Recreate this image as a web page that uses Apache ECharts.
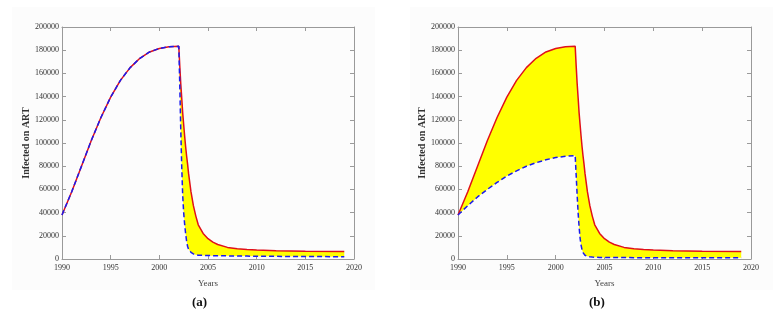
<!DOCTYPE html>
<html>
<head>
<meta charset="utf-8">
<script src="https://cdn.jsdelivr.net/npm/echarts@6/dist/echarts.min.js"></script>
<style>
html,body{margin:0;padding:0;background:#fff;}
#wrap{position:relative;width:781px;height:318px;}
.bg{position:absolute;top:7px;width:363px;height:283px;background:#fcfcfc;}
#chart{position:absolute;left:0;top:0;width:781px;height:318px;}
</style>
</head>
<body>
<div id="wrap">
<div class="bg" style="left:12px"></div>
<div class="bg" style="left:410px"></div>
<div id="chart"></div>
</div>
<script>
// Time points (years)
var years = [1990,1991,1992,1993,1994,1995,1996,1997,1998,1999,2000,2001,2002,
  2002.1,2002.2,2002.3,2002.4,2002.5,2002.6,2002.7,2002.8,2002.9,
  2003,2003.25,2003.5,2003.75,2004,2004.5,2005,2005.5,2006,2007,2008,2009,2010,2012,2015,2019];

// Upper curve (red, solid) - same in both panels
var redValues = [38000,58000,80000,102000,122000,139500,154000,165000,173000,178500,181500,183000,183300,
  166500,151300,139000,126000,116000,106000,97000,89000,82000,
  74000,58000,46000,37000,29500,22000,17500,14500,12500,10000,8800,8100,7700,7200,6700,6400];

// Lower curve (blue, dashed) - panel (a)
var blueValuesA = [38000,58000,80000,102000,122000,139500,154000,165000,173000,178500,181500,183000,183300,
  150000,112000,80000,55000,40000,30000,22000,15500,11000,
  8500,5800,4400,3700,3300,3100,3000,2900,2800,2700,2600,2500,2400,2300,2100,2000];

// Lower curve (blue, dashed) - panel (b)
var blueValuesB = [38000,46000,53500,60000,66000,71500,76000,80000,83000,85500,87500,88500,89200,
  72000,55000,39600,27500,18000,12000,8000,5500,4000,
  3200,2300,1900,1650,1500,1400,1300,1280,1250,1200,1180,1160,1150,1100,1050,1000];

var panelTitles = ['(a)', '(b)'];
var xLabel = 'Years';
var yLabel = 'Infected on ART';

function pairs(xs, ys){ return xs.map(function(x,i){ return [x, ys[i]]; }); }

var grids = [
  {left: 62, top: 27, width: 292, height: 232},
  {left: 458, top: 27, width: 293, height: 232}
];

var axisCol = '#9a9a9a';
var plain = function(v){ return String(v); };
var labelFont = {fontFamily: 'Liberation Serif', fontSize: 8, color: '#333', formatter: plain};

var xAxes = [], yAxes = [], series = [];
[0,1].forEach(function(g){
  xAxes.push({type:'value', gridIndex:g, min:1990, max:2020, interval:5, position:'bottom',
    axisLine:{show:true, onZero:false, lineStyle:{color:axisCol, width:1}},
    axisTick:{show:true, inside:true, length:4, lineStyle:{color:axisCol}},
    axisLabel:Object.assign({margin:5}, labelFont),
    splitLine:{show:false},
    name:xLabel, nameLocation:'middle', nameGap:20,
    nameTextStyle:{fontFamily:'Liberation Serif', fontSize:9, color:'#444'}});
  xAxes.push({type:'value', gridIndex:g, min:1990, max:2020, interval:5, position:'top',
    axisLine:{show:true, onZero:false, lineStyle:{color:axisCol, width:1}},
    axisTick:{show:true, inside:true, length:4, lineStyle:{color:axisCol}},
    axisLabel:{show:false}, splitLine:{show:false}});
  yAxes.push({type:'value', gridIndex:g, min:0, max:200000, interval:20000, position:'left',
    axisLine:{show:true, onZero:false, lineStyle:{color:axisCol, width:1}},
    axisTick:{show:true, inside:true, length:4, lineStyle:{color:axisCol}},
    axisLabel:Object.assign({margin:3}, labelFont),
    splitLine:{show:false},
    name:yLabel, nameLocation:'middle', nameGap:28,
    nameTextStyle:{fontFamily:'Liberation Serif', fontSize:10, fontWeight:'bold', color:'#333'}});
  yAxes.push({type:'value', gridIndex:g, min:0, max:200000, interval:20000, position:'right',
    axisLine:{show:true, onZero:false, lineStyle:{color:axisCol, width:1}},
    axisTick:{show:true, inside:true, length:4, lineStyle:{color:axisCol}},
    axisLabel:{show:false}, splitLine:{show:false}});
});

var lowers = [blueValuesA, blueValuesB];
[0,1].forEach(function(g){
  var xi = g*2, yi = g*2, lower = lowers[g];
  // band between upper and lower curves, positioned via the axes' scales
  series.push({type:'custom', xAxisIndex:xi, yAxisIndex:yi, data:[[years[0], redValues[0]]],
    silent:true, z:2,
    renderItem:function(params, api){
      var pts = [];
      for (var i=0;i<years.length;i++) pts.push(api.coord([years[i], redValues[i]]));
      for (var j=years.length-1;j>=0;j--) pts.push(api.coord([years[j], lower[j]]));
      return {type:'polygon', shape:{points:pts}, style:{fill:'#ffff00', stroke:null}};
    }});
  series.push({type:'line', xAxisIndex:xi, yAxisIndex:yi, data:pairs(years, redValues),
    showSymbol:false, lineStyle:{color:'#e0101a', width:1.5}, z:3});
  series.push({type:'line', xAxisIndex:xi, yAxisIndex:yi, data:pairs(years, lower),
    showSymbol:false, lineStyle:{color:'#1a1aee', width:1.5, type:[5,3]}, z:4});
});

var chart = echarts.init(document.getElementById('chart'), null, {renderer:'canvas'});
chart.setOption({
  animation:false,
  backgroundColor:'transparent',
  graphic:[
    {type:'text', left:201-9, top:296, style:{text:panelTitles[0], font:'bold 13px "Liberation Serif"', fill:'#111'}},
    {type:'text', left:598-9, top:296, style:{text:panelTitles[1], font:'bold 13px "Liberation Serif"', fill:'#111'}}
  ],
  grid:grids,
  xAxis:xAxes,
  yAxis:yAxes,
  series:series
});
</script>
</body>
</html>
